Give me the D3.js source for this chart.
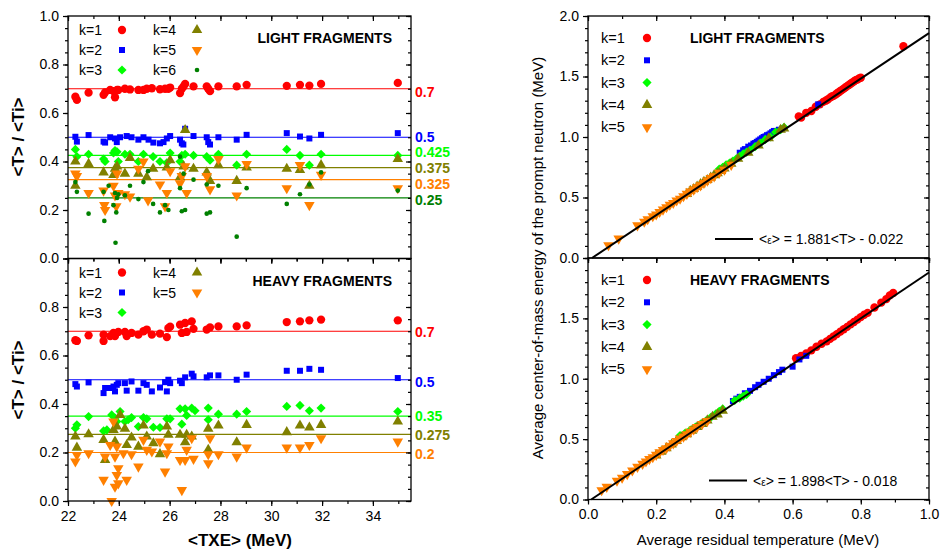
<!DOCTYPE html>
<html>
<head>
<meta charset="utf-8">
<script src="https://cdn.jsdelivr.net/npm/d3@7"></script>
<style>
  body { margin: 0; background: #fff; }
  svg { font-family: "Liberation Sans", Arial, sans-serif; }
</style>
</head>
<body>
<div id="chart"></div>
<script>
// ---- data: left panels, ratio <T>/<Ti> versus <TXE> ----
var lightK1 = [[22.29,0.667],[22.35,0.654],[22.81,0.684],[23.40,0.675],[23.46,0.685],[23.66,0.695],[23.79,0.69],[23.85,0.665],[23.93,0.695],[23.98,0.695],[24.24,0.70],[24.44,0.697],[24.77,0.695],[24.97,0.695],[25.10,0.70],[25.30,0.702],[25.62,0.698],[25.82,0.70],[25.95,0.70],[26.02,0.705],[26.41,0.682],[26.48,0.70],[26.55,0.71],[26.61,0.72],[26.94,0.71],[27.46,0.71],[27.52,0.70],[27.59,0.69],[27.92,0.71],[28.64,0.71],[29.03,0.716],[30.61,0.712],[31.13,0.716],[31.50,0.713],[31.96,0.72],[34.98,0.724]];
var lightK2 = [[22.29,0.502],[22.35,0.482],[22.81,0.509],[23.40,0.482],[23.46,0.478],[23.66,0.50],[23.85,0.495],[23.92,0.48],[24.05,0.50],[24.31,0.505],[24.50,0.50],[24.77,0.49],[24.97,0.50],[25.17,0.49],[25.36,0.478],[25.62,0.475],[25.76,0.48],[25.89,0.495],[26.02,0.505],[26.41,0.49],[26.48,0.475],[26.54,0.47],[26.61,0.535],[26.94,0.505],[27.46,0.50],[27.52,0.48],[27.59,0.47],[27.92,0.50],[28.64,0.49],[29.03,0.51],[30.61,0.517],[31.13,0.503],[31.50,0.495],[31.96,0.51],[34.98,0.517]];
var lightK3 = [[22.29,0.45],[22.35,0.42],[22.81,0.43],[23.40,0.41],[23.46,0.40],[23.79,0.435],[23.85,0.445],[23.93,0.44],[23.98,0.40],[24.24,0.43],[24.44,0.43],[24.77,0.40],[24.97,0.43],[25.35,0.42],[25.62,0.40],[25.89,0.395],[26.02,0.435],[26.41,0.40],[26.48,0.425],[26.61,0.43],[26.94,0.425],[27.46,0.42],[27.59,0.405],[27.92,0.43],[28.64,0.385],[29.03,0.43],[30.61,0.45],[31.13,0.425],[31.50,0.385],[31.96,0.43],[34.98,0.425]];
var lightK4 = [[22.29,0.40],[22.29,0.30],[22.81,0.39],[23.40,0.355],[23.79,0.345],[23.85,0.37],[23.93,0.38],[24.24,0.35],[24.44,0.415],[24.77,0.35],[25.10,0.335],[25.35,0.37],[25.89,0.375],[26.02,0.405],[26.41,0.335],[26.55,0.38],[26.61,0.53],[26.94,0.37],[27.46,0.355],[27.59,0.32],[27.92,0.385],[28.64,0.32],[29.03,0.375],[30.61,0.37],[31.13,0.365],[31.50,0.30],[31.96,0.385],[34.98,0.41]];
var lightK5 = [[22.29,0.35],[22.35,0.34],[22.81,0.27],[23.40,0.28],[23.43,0.22],[23.46,0.20],[23.79,0.30],[23.85,0.26],[23.90,0.215],[23.93,0.35],[23.98,0.27],[24.24,0.265],[24.44,0.255],[24.77,0.37],[24.97,0.40],[25.15,0.24],[25.62,0.305],[25.82,0.215],[25.89,0.27],[26.02,0.36],[26.41,0.31],[26.48,0.34],[26.61,0.38],[26.67,0.27],[27.46,0.34],[27.59,0.285],[27.92,0.41],[28.64,0.26],[29.03,0.39],[30.61,0.29],[31.13,0.385],[31.50,0.22],[31.96,0.345],[34.98,0.29]];
var lightK6 = [[22.29,0.315],[22.35,0.275],[22.81,0.185],[23.40,0.275],[23.43,0.155],[23.60,0.30],[23.79,0.22],[23.85,0.27],[23.87,0.065],[23.90,0.19],[23.93,0.25],[23.98,0.265],[24.24,0.26],[24.44,0.30],[24.77,0.245],[24.97,0.315],[25.15,0.36],[25.35,0.225],[25.62,0.19],[25.82,0.22],[25.95,0.20],[26.41,0.29],[26.41,0.42],[26.48,0.195],[26.55,0.35],[26.61,0.20],[26.94,0.325],[27.46,0.185],[27.46,0.305],[27.59,0.19],[27.92,0.30],[28.64,0.09],[29.03,0.29],[30.61,0.225],[31.13,0.265],[31.50,0.305],[31.96,0.355],[34.98,0.28]];

var heavyK1 = [[22.29,0.663],[22.35,0.66],[22.81,0.683],[23.40,0.686],[23.40,0.66],[23.66,0.68],[23.79,0.693],[23.85,0.68],[23.98,0.697],[24.24,0.697],[24.31,0.68],[24.50,0.693],[24.77,0.686],[24.97,0.70],[25.10,0.707],[25.30,0.686],[25.62,0.69],[25.89,0.676],[25.95,0.713],[26.02,0.719],[26.41,0.727],[26.48,0.693],[26.61,0.734],[26.67,0.697],[26.87,0.741],[26.94,0.71],[27.46,0.707],[27.59,0.716],[27.92,0.72],[28.64,0.72],[29.03,0.724],[30.61,0.738],[31.13,0.741],[31.50,0.745],[31.96,0.748],[34.98,0.745]];
var heavyK2 = [[22.29,0.482],[22.35,0.472],[22.81,0.489],[23.40,0.445],[23.46,0.466],[23.66,0.466],[23.79,0.472],[23.85,0.452],[23.92,0.479],[23.98,0.486],[24.24,0.486],[24.31,0.455],[24.50,0.493],[24.77,0.455],[24.97,0.486],[25.10,0.479],[25.30,0.452],[25.62,0.468],[25.82,0.49],[25.89,0.452],[25.95,0.50],[26.02,0.486],[26.41,0.496],[26.48,0.486],[26.61,0.51],[26.87,0.525],[26.94,0.514],[27.46,0.51],[27.59,0.518],[27.92,0.518],[28.64,0.50],[29.03,0.521],[30.61,0.537],[31.13,0.537],[31.50,0.545],[31.96,0.541],[34.98,0.507]];
var heavyK3 = [[22.29,0.30],[22.35,0.314],[22.81,0.348],[23.40,0.289],[23.53,0.293],[23.72,0.355],[23.85,0.342],[23.92,0.328],[24.05,0.369],[24.24,0.328],[24.37,0.335],[24.50,0.344],[24.77,0.307],[24.97,0.344],[25.10,0.339],[25.36,0.304],[25.62,0.303],[25.89,0.339],[26.02,0.339],[26.41,0.38],[26.48,0.317],[26.61,0.38],[26.67,0.353],[26.87,0.383],[27.00,0.372],[27.52,0.383],[27.52,0.335],[27.92,0.358],[28.64,0.358],[29.03,0.369],[30.61,0.39],[31.13,0.394],[31.50,0.372],[31.96,0.383],[34.98,0.369]];
var heavyK4 = [[22.29,0.266],[22.35,0.22],[22.81,0.275],[23.40,0.252],[23.46,0.169],[23.79,0.293],[23.85,0.245],[23.92,0.307],[24.05,0.355],[24.24,0.298],[24.31,0.231],[24.50,0.262],[24.77,0.224],[24.97,0.311],[25.10,0.266],[25.36,0.238],[25.62,0.193],[25.89,0.307],[25.95,0.273],[26.41,0.273],[26.61,0.242],[26.67,0.273],[26.87,0.266],[27.52,0.298],[27.52,0.211],[27.92,0.311],[28.64,0.242],[29.03,0.314],[30.61,0.284],[31.13,0.311],[31.50,0.303],[31.96,0.314],[34.98,0.328]];
var heavyK5 = [[22.29,0.163],[22.35,0.19],[22.81,0.197],[23.40,0.087],[23.46,0.183],[23.66,0.231],[23.72,0.0],[23.79,0.328],[23.85,0.183],[23.85,0.059],[23.92,0.225],[23.92,0.107],[23.98,0.135],[23.98,0.073],[24.18,0.197],[24.31,0.087],[24.50,0.193],[24.77,0.142],[24.97,0.252],[25.10,0.211],[25.30,0.204],[25.62,0.245],[25.82,0.121],[25.89,0.197],[25.95,0.225],[26.41,0.169],[26.48,0.045],[26.61,0.169],[26.67,0.211],[26.87,0.259],[26.94,0.174],[27.52,0.193],[27.52,0.156],[27.59,0.259],[27.92,0.193],[28.64,0.183],[29.03,0.22],[30.61,0.22],[31.13,0.22],[31.50,0.231],[31.96,0.259],[34.98,0.245]];

var lightRefs = [0.7, 0.5, 0.425, 0.375, 0.325, 0.25];
var heavyRefs = [0.7, 0.5, 0.35, 0.275, 0.2];

// ---- data: right panels, <eps> versus <T> ----
var lightEpsK1 = [[0.618,1.17],[0.625,1.16],[0.64,1.20],[0.655,1.215],[0.668,1.25],[0.68,1.27],[0.69,1.29],[0.697,1.30],[0.703,1.31],[0.71,1.325],[0.715,1.335],[0.72,1.34],[0.726,1.35],[0.73,1.36],[0.735,1.37],[0.74,1.38],[0.745,1.39],[0.75,1.40],[0.755,1.41],[0.76,1.42],[0.765,1.43],[0.77,1.44],[0.775,1.45],[0.78,1.46],[0.785,1.47],[0.79,1.475],[0.795,1.485],[0.80,1.49],[0.925,1.75]];
var lightEpsK2 = [[0.445,0.87],[0.455,0.89],[0.46,0.90],[0.47,0.92],[0.478,0.93],[0.485,0.945],[0.49,0.95],[0.495,0.96],[0.50,0.97],[0.505,0.98],[0.51,0.99],[0.515,1.0],[0.52,1.005],[0.525,1.015],[0.53,1.02],[0.535,1.03],[0.54,1.04],[0.545,1.05],[0.55,1.05],[0.56,1.06],[0.57,1.07],[0.675,1.27]];
var lightEpsK3 = [[0.385,0.735],[0.395,0.75],[0.405,0.77],[0.415,0.785],[0.425,0.80],[0.435,0.82],[0.445,0.84],[0.455,0.86],[0.465,0.875],[0.475,0.89],[0.49,0.92],[0.505,0.95],[0.52,0.98],[0.535,1.0],[0.55,1.04],[0.565,1.06],[0.575,1.08]];
var lightEpsK4 = [[0.29,0.53],[0.30,0.555],[0.31,0.57],[0.32,0.59],[0.33,0.61],[0.34,0.63],[0.35,0.645],[0.36,0.665],[0.37,0.685],[0.38,0.70],[0.39,0.72],[0.40,0.74],[0.42,0.78],[0.44,0.82],[0.47,0.87],[0.50,0.93],[0.53,0.99],[0.565,1.06],[0.575,1.07]];
var lightEpsK5 = [[0.06,0.105],[0.09,0.16],[0.145,0.27],[0.165,0.30],[0.175,0.32],[0.19,0.345],[0.20,0.36],[0.21,0.38],[0.22,0.40],[0.23,0.42],[0.24,0.44],[0.25,0.455],[0.26,0.475],[0.27,0.49],[0.28,0.51],[0.29,0.53],[0.30,0.55],[0.31,0.565],[0.32,0.585],[0.33,0.60],[0.34,0.62],[0.35,0.64],[0.36,0.66],[0.37,0.675],[0.385,0.705],[0.40,0.73],[0.42,0.77]];

var heavyEpsK1 = [[0.61,1.17],[0.625,1.19],[0.64,1.21],[0.655,1.235],[0.67,1.265],[0.685,1.29],[0.70,1.31],[0.71,1.33],[0.72,1.35],[0.73,1.37],[0.74,1.39],[0.75,1.41],[0.76,1.43],[0.77,1.45],[0.78,1.47],[0.79,1.49],[0.80,1.51],[0.81,1.53],[0.82,1.545],[0.84,1.59],[0.86,1.63],[0.875,1.66],[0.885,1.69],[0.895,1.71]];
var heavyEpsK2 = [[0.425,0.815],[0.435,0.835],[0.445,0.85],[0.46,0.88],[0.475,0.90],[0.49,0.93],[0.50,0.95],[0.515,0.975],[0.53,1.0],[0.545,1.03],[0.56,1.055],[0.57,1.075],[0.60,1.10],[0.62,1.16],[0.64,1.19]];
var heavyEpsK3 = [[0.27,0.53],[0.285,0.55],[0.30,0.575],[0.315,0.60],[0.33,0.625],[0.345,0.65],[0.36,0.68],[0.375,0.71],[0.385,0.73],[0.395,0.75],[0.43,0.82],[0.445,0.84],[0.455,0.855],[0.465,0.87]];
var heavyEpsK4 = [[0.20,0.365],[0.215,0.395],[0.23,0.425],[0.245,0.455],[0.26,0.485],[0.275,0.515],[0.29,0.54],[0.305,0.57],[0.32,0.60],[0.335,0.625],[0.35,0.655],[0.365,0.685],[0.38,0.705],[0.395,0.735]];
var heavyEpsK5 = [[0.04,0.077],[0.055,0.105],[0.085,0.155],[0.1,0.18],[0.115,0.21],[0.13,0.24],[0.145,0.27],[0.16,0.295],[0.17,0.315],[0.18,0.335],[0.19,0.35],[0.2,0.37],[0.21,0.39],[0.22,0.41],[0.23,0.425],[0.24,0.445],[0.25,0.465],[0.26,0.485],[0.27,0.505],[0.28,0.52],[0.29,0.54],[0.30,0.56],[0.31,0.58],[0.32,0.60],[0.335,0.625],[0.35,0.65]];

var fitLight = {a: 1.881, b: -0.022, text: "1.881<T> - 0.022"};
var fitHeavy = {a: 1.898, b: -0.018, text: "1.898<T> - 0.018"};

var kLabels = ["k=1", "k=2", "k=3", "k=4", "k=5", "k=6"];
var kColors = ["#ff0000", "#0000ff", "#00ff00", "#808000", "#ff8000", "#008000"];
var kShapes = ["circle", "square", "diamond", "up", "down", "dot"];

var txeTicks = [22, 24, 26, 28, 30, 32, 34];

// ---- layout ----
var svg = d3.select("#chart").append("svg")
  .attr("width", 942).attr("height", 549);

function markerPath(shape) {
  if (shape == "circle") return d3.symbol(d3.symbolCircle, 54)();
  if (shape == "square") return d3.symbol(d3.symbolSquare, 36)();
  if (shape == "diamond") return d3.symbol(d3.symbolSquare, 42)();
  if (shape == "up" || shape == "down") return d3.symbol(d3.symbolTriangle, 48)();
  return d3.symbol(d3.symbolCircle, 17)();
}
function markerRot(shape) {
  if (shape == "diamond") return 45;
  if (shape == "down") return 180;
  return 0;
}

function drawPoints(g, pts, k, x, y) {
  g.append("g").selectAll("path")
    .data(pts)
    .enter().append("path")
      .attr("d", markerPath(kShapes[k]))
      .attr("fill", kColors[k])
      .attr("transform", function(d) {
        return "translate(" + x(d[0]) + "," + y(d[1]) + ") rotate(" + markerRot(kShapes[k]) + ")";
      });
}

function frame(g, x, y, xMaj, xMin, yMaj, yMin, xLabels, yLabels, yFmt, xFmt) {
  var x0 = x.range()[0], x1 = x.range()[1], y0 = y.range()[0], y1 = y.range()[1];
  // minor ticks
  g.append("g").attr("transform", "translate(" + x0 + ",0)")
    .call(d3.axisLeft(y).tickValues(yMin).tickSize(3).tickFormat(""));
  g.append("g").attr("transform", "translate(" + x1 + ",0)")
    .call(d3.axisRight(y).tickValues(yMin).tickSize(-3).tickFormat(""));
  g.append("g").attr("transform", "translate(0," + y0 + ")")
    .call(d3.axisBottom(x).tickValues(xMin).tickSize(3).tickFormat(""));
  g.append("g").attr("transform", "translate(0," + y1 + ")")
    .call(d3.axisTop(x).tickValues(xMin).tickSize(-3).tickFormat(""));
  // major ticks
  g.append("g").attr("transform", "translate(" + x0 + ",0)")
    .call(d3.axisLeft(y).tickValues(yMaj).tickSize(5).tickPadding(4)
      .tickFormat(function(d) { return yLabels.indexOf(d) >= 0 ? yFmt(d) : ""; }));
  g.append("g").attr("transform", "translate(" + x1 + ",0)")
    .call(d3.axisRight(y).tickValues(yMaj).tickSize(-5).tickFormat(""));
  g.append("g").attr("transform", "translate(0," + y0 + ")")
    .call(d3.axisBottom(x).tickValues(xMaj).tickSize(5).tickPadding(5)
      .tickFormat(function(d) { return xLabels ? xFmt(d) : ""; }));
  g.append("g").attr("transform", "translate(0," + y1 + ")")
    .call(d3.axisTop(x).tickValues(xMaj).tickSize(-5).tickFormat(""));
  g.selectAll(".domain").remove();
  g.selectAll(".tick line").attr("stroke", "#000").attr("stroke-width", 1.2);
  g.selectAll(".tick text").attr("font-size", 14).attr("fill", "#000")
    .attr("font-family", "Liberation Sans, Arial, sans-serif");
  g.append("rect")
    .attr("x", x0).attr("y", y1).attr("width", x1 - x0).attr("height", y0 - y1)
    .attr("fill", "none").attr("stroke", "#000").attr("stroke-width", 1.3);
}

var xL = d3.scaleLinear().domain([22, 35.5]).range([68, 411]);
var yLT = d3.scaleLinear().domain([0, 1]).range([258.5, 16]);
var yLB = d3.scaleLinear().domain([0, 1]).range([501, 258.5]);
var xR = d3.scaleLinear().domain([0, 1]).range([588, 929]);
var yRT = d3.scaleLinear().domain([0, 2]).range([258, 16]);
var yRB = d3.scaleLinear().domain([0, 2]).range([499.5, 258]);

var fmt1 = d3.format(".1f");
var fmt0 = d3.format("d");
var txeMinor = d3.range(22, 36, 1);
var ratioMaj = [0, 0.2, 0.4, 0.6, 0.8, 1.0];
var ratioMin = d3.range(0, 1.001, 0.05);
var tMaj = [0, 0.2, 0.4, 0.6, 0.8, 1.0];
var tMin = d3.range(0, 1.001, 0.1);
var eMaj = [0, 0.5, 1.0, 1.5, 2.0];
var eMin = d3.range(0, 2.001, 0.1);

// ---- left panels ----
function leftPanel(series, refs, y, title, nudge) {
  var g = svg.append("g");
  // reference lines and their values
  refs.forEach(function(r, k) {
    g.append("line")
      .attr("x1", xL(22)).attr("x2", xL(35.5))
      .attr("y1", y(r)).attr("y2", y(r))
      .attr("stroke", kColors[k]).attr("stroke-width", 1.2);
    g.append("text")
      .attr("x", 415).attr("y", y(r) + 5 + (nudge[k] || 0))
      .attr("font-size", 14).attr("font-weight", "bold")
      .attr("fill", kColors[k])
      .text(String(r));
  });
  series.forEach(function(pts, k) { drawPoints(g, pts, k, xL, y); });
  // legend
  var top = y.range()[1];
  series.forEach(function(pts, k) {
    var col = k < 3 ? 0 : 1, row = k % 3;
    var lx = col == 0 ? 79 : 153, mx = col == 0 ? 122 : 197;
    var ly = top + 14 + row * 20;
    g.append("text").attr("x", lx).attr("y", ly + 5).attr("font-size", 14).text(kLabels[k]);
    g.append("path").attr("d", markerPath(kShapes[k])).attr("fill", kColors[k])
      .attr("transform", "translate(" + mx + "," + ly + ") rotate(" + markerRot(kShapes[k]) + ")");
  });
  g.append("text").attr("x", 392).attr("y", top + 27).attr("text-anchor", "end")
    .attr("font-size", 14).attr("font-weight", "bold").text(title);
  return g;
}

var gLT = leftPanel([lightK1, lightK2, lightK3, lightK4, lightK5, lightK6], lightRefs, yLT,
  "LIGHT FRAGMENTS", [3, 0, -3, 0.5, 4.5, 2.5]);
frame(gLT, xL, yLT, txeTicks, txeMinor, ratioMaj, ratioMin, false, ratioMaj, fmt1, fmt0);
var gLB = leftPanel([heavyK1, heavyK2, heavyK3, heavyK4, heavyK5], heavyRefs, yLB,
  "HEAVY FRAGMENTS", [0.5, 2.5, 0, 0.5, 1]);
frame(gLB, xL, yLB, txeTicks, txeMinor, ratioMaj, ratioMin, true, [0, 0.2, 0.4, 0.6, 0.8], fmt1, fmt0);

// ---- right panels ----
function rightPanel(series, fit, y, title, ex) {
  var g = svg.append("g");
  series.forEach(function(pts, k) { drawPoints(g, pts, k, xR, y); });
  var t0 = -fit.b / fit.a;
  g.append("line")
    .attr("x1", xR(t0)).attr("y1", y(0))
    .attr("x2", xR(1)).attr("y2", y(fit.a + fit.b))
    .attr("stroke", "#000").attr("stroke-width", 2);
  var top = y.range()[1];
  series.forEach(function(pts, k) {
    var ly = top + 22 + k * 22.3;
    g.append("text").attr("x", 601).attr("y", ly + 5).attr("font-size", 14.5).text(kLabels[k]);
    g.append("path").attr("d", markerPath(kShapes[k])).attr("fill", kColors[k])
      .attr("transform", "translate(" + 647 + "," + ly + ") rotate(" + markerRot(kShapes[k]) + ")");
  });
  g.append("text").attr("x", 690).attr("y", top + 27)
    .attr("font-size", 14).attr("font-weight", "bold").text(title);
  // fit legend
  var ey = y.range()[0] - 19;
  g.append("line").attr("x1", ex).attr("x2", ex + 38).attr("y1", ey).attr("y2", ey)
    .attr("stroke", "#000").attr("stroke-width", 2);
  var tx = g.append("text").attr("x", ex + 44).attr("y", ey + 5).attr("font-size", 14);
  tx.append("tspan").text("<");
  tx.append("tspan").attr("font-size", 10).text("ε");
  tx.append("tspan").text("> = " + fit.text);
  return g;
}

var gRT = rightPanel([lightEpsK1, lightEpsK2, lightEpsK3, lightEpsK4, lightEpsK5], fitLight, yRT, "LIGHT FRAGMENTS", 715);
frame(gRT, xR, yRT, tMaj, tMin, eMaj, eMin, false, eMaj, fmt1, fmt1);
var gRB = rightPanel([heavyEpsK1, heavyEpsK2, heavyEpsK3, heavyEpsK4, heavyEpsK5], fitHeavy, yRB, "HEAVY FRAGMENTS", 709);
frame(gRB, xR, yRB, tMaj, tMin, eMaj, eMin, true, [0, 0.5, 1.0, 1.5], fmt1, fmt1);

// ---- axis titles ----
svg.append("text").attr("transform", "translate(24,137) rotate(-90)")
  .attr("text-anchor", "middle").attr("font-size", 17).attr("font-weight", "bold")
  .text("<T> / <Ti>");
svg.append("text").attr("transform", "translate(24,380) rotate(-90)")
  .attr("text-anchor", "middle").attr("font-size", 17).attr("font-weight", "bold")
  .text("<T> / <Ti>");
svg.append("text").attr("x", 240).attr("y", 546)
  .attr("text-anchor", "middle").attr("font-size", 17).attr("font-weight", "bold")
  .text("<TXE> (MeV)");
svg.append("text").attr("transform", "translate(543,258) rotate(-90)")
  .attr("text-anchor", "middle").attr("font-size", 15)
  .text("Average center-of-mass energy of the prompt neutron (MeV)");
svg.append("text").attr("x", 758).attr("y", 545)
  .attr("text-anchor", "middle").attr("font-size", 15)
  .text("Average residual temperature (MeV)");
</script>
</body>
</html>
